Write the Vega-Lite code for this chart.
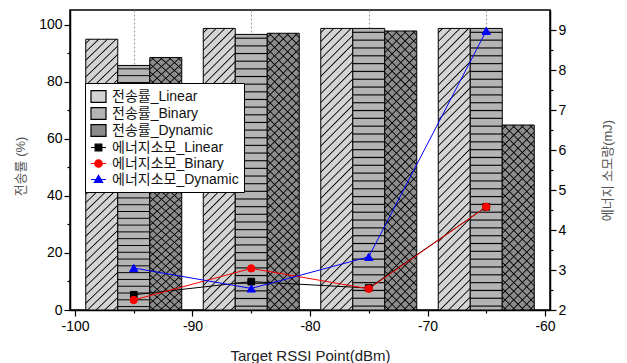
{
  "$schema": "https://vega.github.io/schema/vega-lite/v6.json",
  "width": 480,
  "height": 300,
  "autosize": {"type": "none"},
  "padding": {"left": 70, "top": 10, "right": 77, "bottom": 53},
  "background": "white",
  "params": [
    {"name": "st", "value": [
      {"offset":0.00989,"color":"transparent"},{"offset":0.01389,"color":"#000"},{"offset":0.01789,"color":"transparent"},
      {"offset":0.03767,"color":"transparent"},{"offset":0.04167,"color":"#000"},{"offset":0.04567,"color":"transparent"},
      {"offset":0.06544,"color":"transparent"},{"offset":0.06944,"color":"#000"},{"offset":0.07344,"color":"transparent"},
      {"offset":0.09322,"color":"transparent"},{"offset":0.09722,"color":"#000"},{"offset":0.10122,"color":"transparent"},
      {"offset":0.12100,"color":"transparent"},{"offset":0.12500,"color":"#000"},{"offset":0.12900,"color":"transparent"},
      {"offset":0.14878,"color":"transparent"},{"offset":0.15278,"color":"#000"},{"offset":0.15678,"color":"transparent"},
      {"offset":0.17656,"color":"transparent"},{"offset":0.18056,"color":"#000"},{"offset":0.18456,"color":"transparent"},
      {"offset":0.20433,"color":"transparent"},{"offset":0.20833,"color":"#000"},{"offset":0.21233,"color":"transparent"},
      {"offset":0.23211,"color":"transparent"},{"offset":0.23611,"color":"#000"},{"offset":0.24011,"color":"transparent"},
      {"offset":0.25989,"color":"transparent"},{"offset":0.26389,"color":"#000"},{"offset":0.26789,"color":"transparent"},
      {"offset":0.28767,"color":"transparent"},{"offset":0.29167,"color":"#000"},{"offset":0.29567,"color":"transparent"},
      {"offset":0.31544,"color":"transparent"},{"offset":0.31944,"color":"#000"},{"offset":0.32344,"color":"transparent"},
      {"offset":0.34322,"color":"transparent"},{"offset":0.34722,"color":"#000"},{"offset":0.35122,"color":"transparent"},
      {"offset":0.37100,"color":"transparent"},{"offset":0.37500,"color":"#000"},{"offset":0.37900,"color":"transparent"},
      {"offset":0.39878,"color":"transparent"},{"offset":0.40278,"color":"#000"},{"offset":0.40678,"color":"transparent"},
      {"offset":0.42656,"color":"transparent"},{"offset":0.43056,"color":"#000"},{"offset":0.43456,"color":"transparent"},
      {"offset":0.45433,"color":"transparent"},{"offset":0.45833,"color":"#000"},{"offset":0.46233,"color":"transparent"},
      {"offset":0.48211,"color":"transparent"},{"offset":0.48611,"color":"#000"},{"offset":0.49011,"color":"transparent"},
      {"offset":0.50989,"color":"transparent"},{"offset":0.51389,"color":"#000"},{"offset":0.51789,"color":"transparent"},
      {"offset":0.53767,"color":"transparent"},{"offset":0.54167,"color":"#000"},{"offset":0.54567,"color":"transparent"},
      {"offset":0.56544,"color":"transparent"},{"offset":0.56944,"color":"#000"},{"offset":0.57344,"color":"transparent"},
      {"offset":0.59322,"color":"transparent"},{"offset":0.59722,"color":"#000"},{"offset":0.60122,"color":"transparent"},
      {"offset":0.62100,"color":"transparent"},{"offset":0.62500,"color":"#000"},{"offset":0.62900,"color":"transparent"},
      {"offset":0.64878,"color":"transparent"},{"offset":0.65278,"color":"#000"},{"offset":0.65678,"color":"transparent"},
      {"offset":0.67656,"color":"transparent"},{"offset":0.68056,"color":"#000"},{"offset":0.68456,"color":"transparent"},
      {"offset":0.70433,"color":"transparent"},{"offset":0.70833,"color":"#000"},{"offset":0.71233,"color":"transparent"},
      {"offset":0.73211,"color":"transparent"},{"offset":0.73611,"color":"#000"},{"offset":0.74011,"color":"transparent"},
      {"offset":0.75989,"color":"transparent"},{"offset":0.76389,"color":"#000"},{"offset":0.76789,"color":"transparent"},
      {"offset":0.78767,"color":"transparent"},{"offset":0.79167,"color":"#000"},{"offset":0.79567,"color":"transparent"},
      {"offset":0.81544,"color":"transparent"},{"offset":0.81944,"color":"#000"},{"offset":0.82344,"color":"transparent"},
      {"offset":0.84322,"color":"transparent"},{"offset":0.84722,"color":"#000"},{"offset":0.85122,"color":"transparent"},
      {"offset":0.87100,"color":"transparent"},{"offset":0.87500,"color":"#000"},{"offset":0.87900,"color":"transparent"},
      {"offset":0.89878,"color":"transparent"},{"offset":0.90278,"color":"#000"},{"offset":0.90678,"color":"transparent"},
      {"offset":0.92656,"color":"transparent"},{"offset":0.93056,"color":"#000"},{"offset":0.93456,"color":"transparent"},
      {"offset":0.95433,"color":"transparent"},{"offset":0.95833,"color":"#000"},{"offset":0.96233,"color":"transparent"},
      {"offset":0.98211,"color":"transparent"},{"offset":0.98611,"color":"#000"},{"offset":0.99011,"color":"transparent"}
    ]}
  ],
  "datasets": {
    "rates": [
      {"rssi": -95, "series": "Linear", "label": "전송률_Linear", "rate": 95.0},
      {"rssi": -95, "series": "Binary", "label": "전송률_Binary", "rate": 85.8},
      {"rssi": -95, "series": "Dynamic", "label": "전송률_Dynamic", "rate": 88.6},
      {"rssi": -85, "series": "Linear", "label": "전송률_Linear", "rate": 98.8},
      {"rssi": -85, "series": "Binary", "label": "전송률_Binary", "rate": 96.7},
      {"rssi": -85, "series": "Dynamic", "label": "전송률_Dynamic", "rate": 97.1},
      {"rssi": -75, "series": "Linear", "label": "전송률_Linear", "rate": 98.8},
      {"rssi": -75, "series": "Binary", "label": "전송률_Binary", "rate": 98.8},
      {"rssi": -75, "series": "Dynamic", "label": "전송률_Dynamic", "rate": 97.9},
      {"rssi": -65, "series": "Linear", "label": "전송률_Linear", "rate": 98.8},
      {"rssi": -65, "series": "Binary", "label": "전송률_Binary", "rate": 98.8},
      {"rssi": -65, "series": "Dynamic", "label": "전송률_Dynamic", "rate": 64.9}
    ],
    "energy": [
      {"rssi": -95, "series": "Linear", "label": "에너지소모_Linear", "energy": 2.38},
      {"rssi": -85, "series": "Linear", "label": "에너지소모_Linear", "energy": 2.71},
      {"rssi": -75, "series": "Linear", "label": "에너지소모_Linear", "energy": 2.55},
      {"rssi": -65, "series": "Linear", "label": "에너지소모_Linear", "energy": 4.58},
      {"rssi": -95, "series": "Binary", "label": "에너지소모_Binary", "energy": 2.25},
      {"rssi": -85, "series": "Binary", "label": "에너지소모_Binary", "energy": 3.04},
      {"rssi": -75, "series": "Binary", "label": "에너지소모_Binary", "energy": 2.53},
      {"rssi": -65, "series": "Binary", "label": "에너지소모_Binary", "energy": 4.58},
      {"rssi": -95, "series": "Dynamic", "label": "에너지소모_Dynamic", "energy": 3.05},
      {"rssi": -85, "series": "Dynamic", "label": "에너지소모_Dynamic", "energy": 2.54},
      {"rssi": -75, "series": "Dynamic", "label": "에너지소모_Dynamic", "energy": 3.33},
      {"rssi": -65, "series": "Dynamic", "label": "에너지소모_Dynamic", "energy": 8.98}
    ]
  },
  "config": {
    "view": {"stroke": "black", "strokeWidth": 1.5},
    "axis": {
      "domainColor": "black", "domainWidth": 1.5, "tickColor": "black", "tickWidth": 1.2,
      "labelColor": "black", "labelFont": "Liberation Sans", "labelFontSize": 14,
      "titleFont": "Liberation Sans, Noto Sans CJK KR", "titleFontWeight": "normal", "titleColor": "#222"
    },
    "legend": {
      "orient": "none", "legendX": 15, "legendY": 73,
      "strokeColor": "black", "fillColor": "white", "padding": 5, "rowPadding": 0,
      "labelFont": "Liberation Sans, Noto Sans CJK KR", "labelFontSize": 14, "labelColor": "#111",
      "labelLimit": 300, "symbolSize": 225, "symbolStrokeWidth": 1.2, "labelOffset": 5
    }
  },
  "encoding": {
    "x": {
      "field": "rssi", "type": "quantitative",
      "scale": {"domain": [-100, -60], "nice": false, "zero": false},
      "axis": {
        "values": [-100, -95, -90, -85, -80, -75, -70, -65, -60],
        "labelExpr": "datum.value % 10 === 0 ? '' + datum.value : ''",
        "tickSize": {"condition": {"test": "datum.value % 10 === 0", "value": 6}, "value": 3},
        "grid": true, "gridDash": [2, 2], "gridColor": "#999",
        "gridOpacity": {"condition": {"test": "datum.value % 10 !== 0", "value": 1}, "value": 0},
        "labelPadding": 3, "labelFlush": false,
        "title": "Target RSSI Point(dBm)", "titleFontSize": 15,
        "titleX": 240, "titleY": 45, "titleBaseline": "middle", "titleAlign": "center"
      }
    }
  },
  "layer": [
    {
      "data": {"name": "rates"},
      "encoding": {
        "y": {
          "field": "rate", "type": "quantitative",
          "scale": {"domain": [0, 105.26], "nice": false, "zero": true},
          "axis": {
            "orient": "left",
            "values": [0, 10, 20, 30, 40, 50, 60, 70, 80, 90, 100],
            "labelExpr": "datum.value % 20 === 0 ? '' + datum.value : ''",
            "tickSize": {"condition": {"test": "datum.value % 20 === 0", "value": 6}, "value": 3},
            "grid": false,
            "title": "전송률 (%)", "titleFontSize": 13, "titleColor": "#555",
            "titleX": -50, "titleY": 156, "titleAngle": -90, "titleBaseline": "middle", "titleAlign": "center"
          }
        }
      },
      "layer": [
        {
          "transform": [{"filter": "datum.series === 'Linear'"}],
          "mark": {"type": "bar", "orient": "vertical", "width": 32, "xOffset": -32, "stroke": "black", "strokeWidth": 1},
          "encoding": {
            "fill": {
              "field": "label", "type": "nominal",
              "scale": {"domain": ["전송률_Linear", "전송률_Binary", "전송률_Dynamic", "에너지소모_Linear", "에너지소모_Binary", "에너지소모_Dynamic"], "range": ["#d4d4d4", "#b4b4b4", "#8c8c8c", "black", "red", "blue"]},
              "legend": {"title": null}
            }
          }
        },
        {
          "transform": [{"filter": "datum.series === 'Linear'"}],
          "mark": {"type": "bar", "orient": "vertical", "width": 32, "xOffset": -32,
            "fill": {"expr": "{gradient: 'linear', x1: 0, y1: 0, x2: 0.1257, y2: 1.1, stops: st}"}}
        },
        {
          "transform": [{"filter": "datum.series === 'Binary'"}],
          "mark": {"type": "bar", "orient": "vertical", "width": 32, "xOffset": 0, "stroke": "black", "strokeWidth": 1},
          "encoding": {
            "fill": {
              "field": "label", "type": "nominal",
              "scale": {"domain": ["전송률_Linear", "전송률_Binary", "전송률_Dynamic", "에너지소모_Linear", "에너지소모_Binary", "에너지소모_Dynamic"], "range": ["#d4d4d4", "#b4b4b4", "#8c8c8c", "black", "red", "blue"]},
              "legend": {"title": null}
            }
          }
        },
        {
          "transform": [{"filter": "datum.series === 'Binary'"}],
          "mark": {"type": "bar", "orient": "vertical", "width": 32, "xOffset": 0,
            "fill": {"expr": "{gradient: 'linear', x1: 0, y1: 0, x2: 0, y2: 1, stops: st}"}}
        },
        {
          "transform": [{"filter": "datum.series === 'Dynamic'"}],
          "mark": {"type": "bar", "orient": "vertical", "width": 32, "xOffset": 32, "stroke": "black", "strokeWidth": 1},
          "encoding": {
            "fill": {
              "field": "label", "type": "nominal",
              "scale": {"domain": ["전송률_Linear", "전송률_Binary", "전송률_Dynamic", "에너지소모_Linear", "에너지소모_Binary", "에너지소모_Dynamic"], "range": ["#d4d4d4", "#b4b4b4", "#8c8c8c", "black", "red", "blue"]},
              "legend": {"title": null}
            }
          }
        },
        {
          "transform": [{"filter": "datum.series === 'Dynamic' && datum.rssi !== -65"}],
          "mark": {"type": "bar", "orient": "vertical", "width": 32, "xOffset": 32,
            "fill": {"expr": "{gradient: 'linear', x1: 0, y1: 0, x2: 0.1257, y2: 1.1, stops: st}"}}
        },
        {
          "transform": [{"filter": "datum.series === 'Dynamic' && datum.rssi !== -65"}],
          "mark": {"type": "bar", "orient": "vertical", "width": 32, "xOffset": 32,
            "fill": {"expr": "{gradient: 'linear', x1: 0, y1: 1, x2: 0.1257, y2: -0.1, stops: st}"}}
        },
        {
          "transform": [{"filter": "datum.series === 'Dynamic' && datum.rssi === -65"}],
          "mark": {"type": "bar", "orient": "vertical", "width": 32, "xOffset": 32,
            "fill": {"expr": "{gradient: 'linear', x1: 0, y1: 0, x2: 0.283, y2: 1.637, stops: st}"}}
        },
        {
          "transform": [{"filter": "datum.series === 'Dynamic' && datum.rssi === -65"}],
          "mark": {"type": "bar", "orient": "vertical", "width": 32, "xOffset": 32,
            "fill": {"expr": "{gradient: 'linear', x1: 0, y1: 1, x2: 0.283, y2: -0.637, stops: st}"}}
        }
      ]
    },
    {
      "data": {"name": "energy"},
      "encoding": {
        "y": {
          "field": "energy", "type": "quantitative",
          "scale": {"domain": [2, 9.5], "nice": false, "zero": false},
          "axis": {
            "orient": "right",
            "values": [2, 2.5, 3, 3.5, 4, 4.5, 5, 5.5, 6, 6.5, 7, 7.5, 8, 8.5, 9],
            "labelExpr": "datum.value % 1 === 0 ? '' + datum.value : ''",
            "tickSize": {"condition": {"test": "datum.value % 1 === 0", "value": 6}, "value": 3},
            "grid": false,
            "title": "에너지 소모량(mJ)", "titleFontSize": 13, "titleColor": "#555",
            "titleX": 57, "titleY": 160, "titleAngle": -90, "titleBaseline": "middle", "titleAlign": "center"
          }
        }
      },
      "layer": [
        {
          "mark": {"type": "line", "strokeWidth": 1},
          "encoding": {
            "stroke": {
              "field": "label", "type": "nominal",
              "scale": {"domain": ["전송률_Linear", "전송률_Binary", "전송률_Dynamic", "에너지소모_Linear", "에너지소모_Binary", "에너지소모_Dynamic"], "range": ["black", "black", "black", "black", "red", "blue"]},
              "legend": null
            }
          }
        },
        {
          "transform": [{"filter": "datum.series === 'Linear'"}],
          "mark": {"type": "point", "shape": "square", "filled": true, "fill": "black", "stroke": "black", "strokeWidth": 1, "size": 45, "opacity": 1}
        },
        {
          "transform": [{"filter": "datum.series === 'Binary'"}],
          "mark": {"type": "point", "shape": "circle", "filled": true, "fill": "red", "stroke": "red", "strokeWidth": 1, "size": 55, "opacity": 1}
        },
        {
          "transform": [{"filter": "datum.series === 'Dynamic'"}],
          "mark": {"type": "point", "shape": "triangle-up", "filled": true, "fill": "blue", "stroke": "blue", "strokeWidth": 1, "size": 70, "opacity": 1}
        },
        {
          "transform": [{"filter": "false"}],
          "mark": {"type": "point", "filled": true, "opacity": 1, "strokeWidth": 1.2},
          "encoding": {
            "fill": {
              "field": "label", "type": "nominal",
              "scale": {"domain": ["전송률_Linear", "전송률_Binary", "전송률_Dynamic", "에너지소모_Linear", "에너지소모_Binary", "에너지소모_Dynamic"], "range": ["#d4d4d4", "#b4b4b4", "#8c8c8c", "black", "red", "blue"]},
              "legend": {"title": null}
            },
            "stroke": {
              "field": "label", "type": "nominal",
              "scale": {"domain": ["전송률_Linear", "전송률_Binary", "전송률_Dynamic", "에너지소모_Linear", "에너지소모_Binary", "에너지소모_Dynamic"], "range": ["black", "black", "black", "black", "red", "blue"]},
              "legend": {"title": null}
            },
            "shape": {
              "field": "label", "type": "nominal",
              "scale": {"domain": ["전송률_Linear", "전송률_Binary", "전송률_Dynamic", "에너지소모_Linear", "에너지소모_Binary", "에너지소모_Dynamic"], "range": ["M-1,-0.78H1V0.78H-1Z", "M-1,-0.78H1V0.78H-1Z", "M-1,-0.78H1V0.78H-1Z", "M-1,0H1M-0.45,-0.45H0.45V0.45H-0.45Z", "M-1,0H1M-0.5,0A0.5,0.5,0,1,1,0.5,0A0.5,0.5,0,1,1,-0.5,0Z", "M-1,0H1M0,-0.55L0.55,0.4H-0.55Z"]},
              "legend": {"title": null}
            }
          }
        }
      ]
    }
  ],
  "resolve": {"scale": {"y": "independent"}}
}
